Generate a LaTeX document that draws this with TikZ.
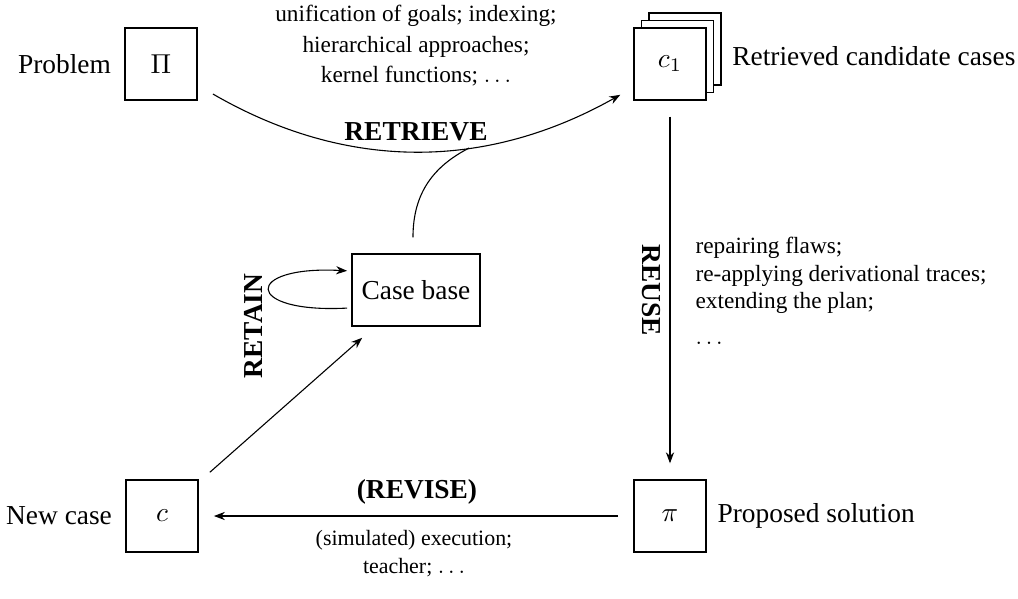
\documentclass[tikz,border=0pt]{standalone}
\usepackage{fontspec}
\setmainfont{Liberation Serif}
\usetikzlibrary{positioning,shadows,arrows.meta}

\begin{document}
\begin{tikzpicture}[x=0.365pt, y=-0.365pt,
    >={Stealth[length=4pt,width=3pt]},
    casebox/.style={draw, semithick, fill=white, minimum width=26.3pt, minimum height=26.3pt, inner sep=0pt},
    stackcopy/.style={copy shadow={shadow xshift=#1, shadow yshift=#1, fill=white, draw=black, semithick}},
    note/.style={font=\fontsize{8.5}{11}\selectfont, inner sep=0pt},
    phase/.style={font=\bfseries, inner sep=0pt}]
  \useasboundingbox (0,0) rectangle (1018,598);

  % 方框
  \node[casebox] (prob) at (161,64) {$\Pi$};
  \node[casebox, stackcopy=5.5pt, stackcopy=2.75pt] (cands) at (670,64) {$c_1$};
  \node[casebox, minimum width=46.7pt] (cbase) at (416,290) {Case base};
  \node[casebox] (newc) at (162,516) {$c$};
  \node[casebox] (prop) at (670,516) {$\pi$};

  % 框旁文字
  \node[left=1.3pt of prob] (problbl) {Problem};
  \node[right=5.8pt of cands, yshift=3pt] (candslbl) {Retrieved candidate cases};
  \node[left=1.3pt of newc] (newclbl) {New case};
  \node[right=0.4pt of prop] (proplbl) {Proposed solution};

  % 阶段名称
  \node[phase] (retrlbl) at (416,132) {RETRIEVE};
  \node[phase, rotate=-90] (reuselbl) at (651,290) {REUSE};
  \node[phase] (revlbl) at (417,492) {(REVISE)};
  \node[phase, rotate=90] (retlbl) at (253,326) {RETAIN};

  % 说明
  \node[note, align=center, anchor=north] (retrnote) at (416,5)
    {unification of goals; indexing;\\ hierarchical approaches;\\ kernel functions; $\ldots$};
  \node[note, align=left, anchor=north west, font=\fontsize{8.5}{10}\selectfont] (reusenote) at (695,237)
    {repairing flaws;\\ re-applying derivational traces;\\ extending the plan;\\[3pt] $\ldots$};
  \node[note, align=center, anchor=north, font=\fontsize{8}{10}\selectfont] (revnote) at (414,530)
    {(simulated) execution;\\ teacher; $\ldots$};

  % 箭头
  \draw[->] ([xshift=5.5pt,yshift=2.5pt]prob.south east)
      .. controls +(133,77) and +(-135,76) .. ([xshift=-4.7pt,yshift=2.2pt]cands.south west)
      coordinate[pos=0.63] (join);
  \draw ([xshift=-1.1pt,yshift=5.8pt]cbase.north) .. controls +(0,-45) and +(-35,18) .. (join);
  \draw[->] ([yshift=-5.8pt]cands.south) -- ([yshift=5.8pt]prop.north);
  \draw[->, shorten <=5.5pt, shorten >=5.5pt] (prop) -- (newc);
  \draw[->] ([xshift=4pt,yshift=2.5pt]newc.north east) -- ([xshift=4pt,yshift=-4pt]cbase.south west);
  \draw[->] ([xshift=-1.5pt,yshift=-6.6pt]cbase.west)
      .. controls +(-38pt,-2pt) and +(-38pt,2pt) .. ([xshift=-1.5pt,yshift=7pt]cbase.west);
\end{tikzpicture}
\end{document}
